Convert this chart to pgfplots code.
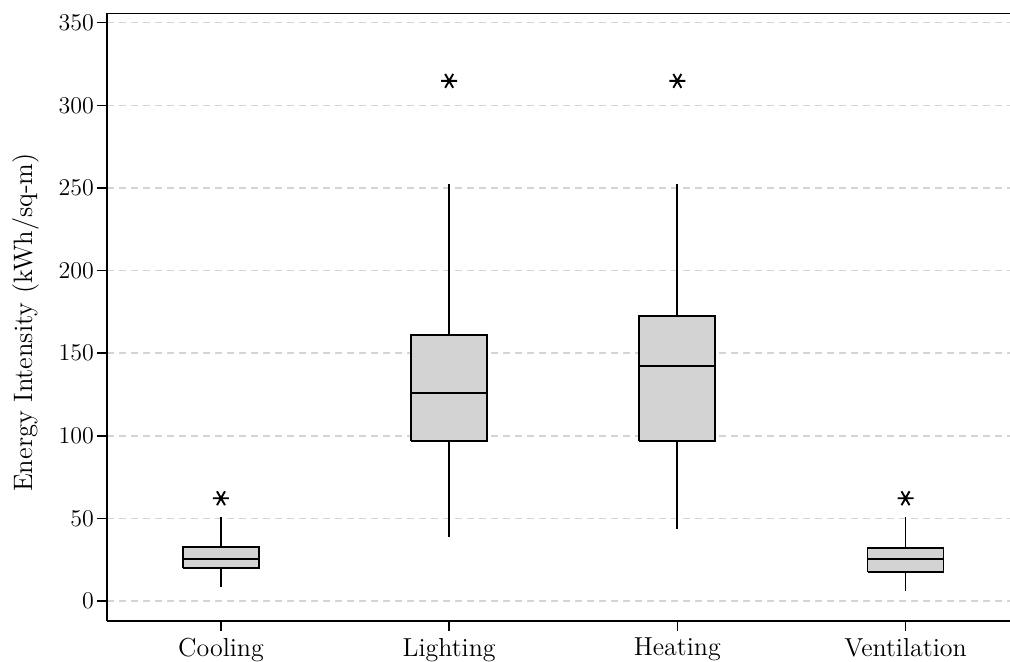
\documentclass[border=0pt]{standalone}
\usepackage{pgfplots}
\pgfplotsset{compat=1.18}
\definecolor{boxgray}{RGB}{211,211,211}
\definecolor{gridgray}{RGB}{212,212,212}
\begin{document}
\begin{tikzpicture}
\begin{axis}[
  scale only axis,
  width=451.5pt, height=303.75pt,
  xmin=-0.4996, xmax=3.458,
  ymin=-12.1, ymax=355.6,
  axis x line*=box, axis y line*=left,
  xtick pos=left, ytick pos=left,
  xtick={0,1,2,3},
  xticklabels={Cooling,Lighting,Heating,Ventilation},
  ytick={0,50,...,350},
  tick align=outside,
  major tick length=5pt,
  tick style={black, line width=0.75pt},
  axis line style={black, line width=0.8pt},
  ymajorgrids,
  major grid style={gridgray, line width=0.75pt, dash pattern=on 3.5pt off 2.5pt},
  xticklabel style={font=\fontsize{13pt}{15pt}\selectfont},
  yticklabel style={font=\fontsize{12.8pt}{15pt}\selectfont, xshift=2pt},
  label style={font=\fontsize{13.3pt}{16pt}\selectfont},
  ylabel={Energy Intensity (kWh/sq-m)},
  ylabel style={at={(axis description cs:-0.082,0.4914)}, anchor=base},
  whisk/.style={black, line width=0.85pt, no markers},
  boxst/.style={black, fill=boxgray, line width=0.9pt, no markers, line join=miter},
  medst/.style={black, line width=0.9pt, no markers},
  outl/.style={black, only marks, mark=asterisk, mark size=4pt, mark options={line width=0.95pt, rotate=90}},
]
% whiskers
\addplot[whisk] coordinates {(0,8.3) (0,50.7)};
\addplot[whisk] coordinates {(1,38.9) (1,252.4)};
\addplot[whisk] coordinates {(2,43.6) (2,252.4)};
\addplot[whisk] coordinates {(3,5.9) (3,51.0)};
% boxes (lower quartile to upper quartile)
\addplot[boxst] coordinates {(-0.1665,19.8) (0.1665,19.8) (0.1665,32.5) (-0.1665,32.5) (-0.1665,19.8)};
\addplot[boxst] coordinates {(0.8335,97.0) (1.1665,97.0) (1.1665,161.2) (0.8335,161.2) (0.8335,97.0)};
\addplot[boxst] coordinates {(1.8335,97.0) (2.1665,97.0) (2.1665,172.7) (1.8335,172.7) (1.8335,97.0)};
\addplot[boxst] coordinates {(2.8335,17.4) (3.1665,17.4) (3.1665,32.3) (2.8335,32.3) (2.8335,17.4)};
% medians
\addplot[medst] coordinates {(-0.1665,25.6) (0.1665,25.6)};
\addplot[medst] coordinates {(0.8335,125.9) (1.1665,125.9)};
\addplot[medst] coordinates {(1.8335,142.1) (2.1665,142.1)};
\addplot[medst] coordinates {(2.8335,25.6) (3.1665,25.6)};
% outliers
\addplot[outl] coordinates {(0,62.2) (1,314.8) (2,314.8) (3,62.2)};
\coordinate (SW) at (rel axis cs:0,0);
\coordinate (NE) at (rel axis cs:1,1);
\end{axis}
\pgfresetboundingbox
\path ([shift={(-53.5pt,-20.5pt)}]SW) rectangle ([shift={(0pt,6.75pt)}]NE);
\end{tikzpicture}
\end{document}
